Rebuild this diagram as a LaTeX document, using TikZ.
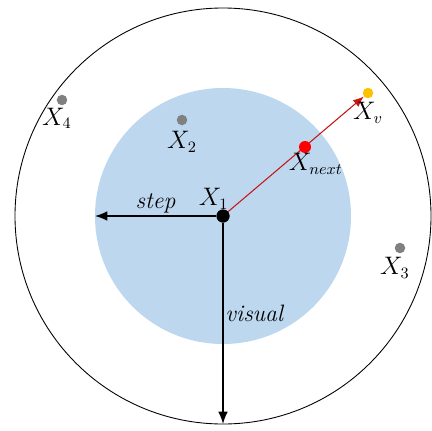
\documentclass[tikz,border=0pt]{standalone}
\usepackage{amsmath}
\usepackage{tikz}
\usepackage{xcolor}
\usetikzlibrary{arrows.meta,positioning,calc}

\definecolor{zone}{RGB}{189,215,238}
\definecolor{pgray}{RGB}{128,128,128}
\definecolor{pred}{RGB}{255,0,0}
\definecolor{pline}{RGB}{200,20,20}
\definecolor{pgold}{RGB}{255,192,0}

\begin{document}
\begin{tikzpicture}[
    dot/.style={circle, fill=#1, inner sep=0pt, minimum size=0.21cm},
    lbl/.style={inner sep=1pt, font=\fontsize{13.5}{15}\selectfont},
    arrow/.style={-{Latex[length=7pt,width=5.5pt]}, line width=0.8pt},
    redarrow/.style={-{Latex[length=6pt,width=5pt]}, line width=0.6pt, pline}
]
    \useasboundingbox (-4.46,-4.28) rectangle (4.18,4.32);

    % visual range and step range
    \draw[line width=0.5pt] (0,0) circle (4.16cm);
    \fill[zone] (0,0) circle (2.56cm);

    \coordinate (stepend) at (-2.56,0);
    \coordinate (visend) at (0,-4.16);

    \node[dot=black, minimum size=0.26cm] (x1) at (0,0) {};
    \node[dot=pgray] (x2) at (-0.82,1.92) {};
    \node[dot=pgray] (x3) at (3.54,-0.64) {};
    \node[dot=pgray] (x4) at (-3.22,2.32) {};
    \node[dot=pgold] (xv) at (2.90,2.46) {};

    \draw[redarrow] (x1.center) -- (xv);
    \node[dot=pred, minimum size=0.24cm] (xnext) at (1.64,1.38) {};
    \draw[arrow] (x1) -- (stepend) node[midway, above, lbl] {\textit{step}};
    \draw[arrow] (x1) -- (visend) node[pos=0.45, right, lbl] {\textit{visual}};
    \node[dot=black, minimum size=0.26cm] at (x1) {};

    \node[lbl, above left=0pt and -7pt of x1] {$X_1$};
    \node[lbl, below=2pt of x2] {$X_2$};
    \node[lbl, below left=2pt and -9pt of x3] {$X_3$};
    \node[lbl, below left=1pt and -9pt of x4] {$X_4$};
    \node[lbl, below=1pt of xv] {$X_v$};
    \node[lbl, below right=0pt and -13pt of xnext] {$X_{next}$};
\end{tikzpicture}
\end{document}
